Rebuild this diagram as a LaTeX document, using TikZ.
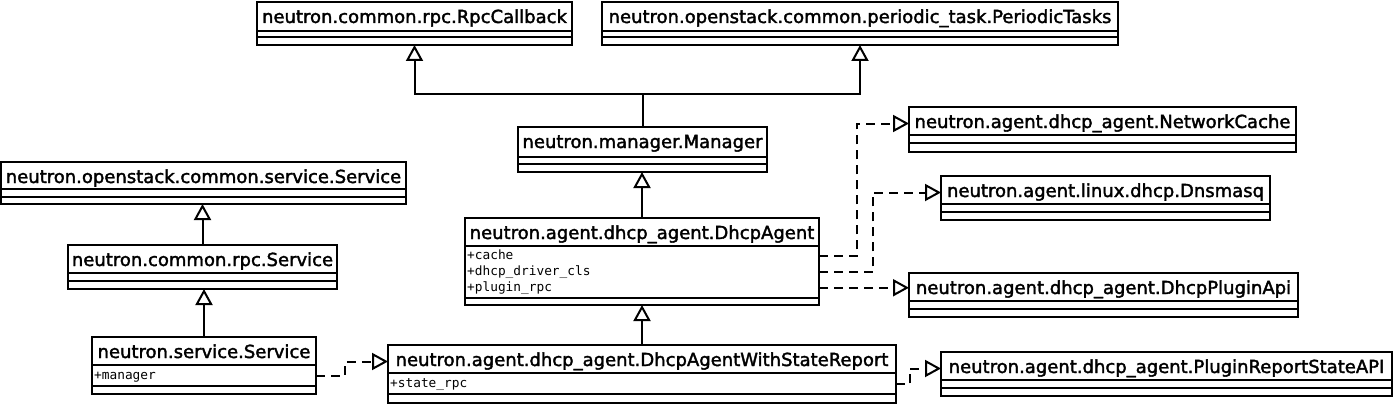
\documentclass[tikz,border=0pt]{standalone}
\usepackage{fontspec}
\usetikzlibrary{arrows.meta}
\newfontfamily\titlefont[FakeBold=2]{DejaVu Sans}
\newfontfamily\attrfont{DejaVu Sans Mono}
\tikzset{
 clsbox/.style={draw, line width=2pt, inner sep=0pt, outer sep=0pt},
 clsline/.style={line width=2pt},
 clstitle/.style={font=\titlefont\fontsize{18}{20}\selectfont, inner sep=0pt, anchor=base, text height=13pt, text depth=4pt},
 clsattr/.style={font=\attrfont\fontsize{12.8}{14}\selectfont, inner sep=0pt, anchor=base west, text height=9.5pt, text depth=3pt},
 inh/.style={line width=2pt, -{Triangle[open, length=16pt, width=17pt]}},
 real/.style={line width=2pt, dash pattern=on 9pt off 6pt, -{Triangle[open, length=16pt, width=17pt]}},
}
% name, x1, y1, x2, y2, sep1, sep2, title  (pixel coordinates, y downward)
\newcommand\umlcls[8]{%
 \node[clsbox, minimum width={(#4-#2)*1pt}, minimum height={(#5-#3)*1pt}] (#1) at ({(#2+#4)/2},{-(#3+#5)/2}) {};
 \node[clstitle] (#1T) at ({(#2+#4)/2},{-(#3+21)}) {#8};
 \draw[clsline] (#1.west |- 0,-#6) -- (#1.east |- 0,-#6);
 \draw[clsline] (#1.west |- 0,-#7) -- (#1.east |- 0,-#7);
}
\begin{document}
\begin{tikzpicture}[x=1pt,y=1pt]
\useasboundingbox (0,0) rectangle (1396,-412);
\umlcls{rpc}{257}{2}{572}{45}{31}{37}{neutron.common.rpc.RpcCallback}
\umlcls{pt}{602}{2}{1118}{45}{31}{37}{neutron.openstack.common.periodic\_task.PeriodicTasks}
\umlcls{mgr}{518}{127}{767}{172}{157}{164}{neutron.manager.Manager}
\umlcls{da}{465}{218}{819}{305}{246}{298}{neutron.agent.dhcp\_agent.DhcpAgent}
\umlcls{oss}{1}{162}{406}{204}{189}{197}{neutron.openstack.common.service.Service}
\umlcls{rs}{68}{245}{337}{289}{273}{281}{neutron.common.rpc.Service}
\umlcls{svc}{92}{337}{316}{394}{365}{386}{neutron.service.Service}
\umlcls{dawsr}{388}{345}{896}{403}{373}{394}{neutron.agent.dhcp\_agent.DhcpAgentWithStateReport}
\umlcls{nc}{909}{107}{1296}{152}{135}{143}{neutron.agent.dhcp\_agent.NetworkCache}
\umlcls{dns}{941}{176}{1270}{220}{204}{212}{neutron.agent.linux.dhcp.Dnsmasq}
\umlcls{dpa}{909}{273}{1298}{317}{301}{309}{neutron.agent.dhcp\_agent.DhcpPluginApi}
\umlcls{prs}{941}{352}{1392}{396}{380}{388}{neutron.agent.dhcp\_agent.PluginReportStateAPI}
% attributes
\node[clsattr] (daA1) at (467,-259.5) {+cache};
\node[clsattr] (daA2) at (467,-275.5) {+dhcp\_driver\_cls};
\node[clsattr] (daA3) at (467,-291) {+plugin\_rpc};
\node[clsattr] (svcA1) at (94,-379) {+manager};
\node[clsattr] (dawsrA1) at (390,-387.5) {+state\_rpc};
% generalizations
\draw[inh] (mgr.north) -- ++(0,33) -| (rpc.south);
\draw[inh] (mgr.north) -- ++(0,33) -| (pt.south);
\draw[inh] (da.north) -- (da.north |- mgr.south);
\draw[inh] (dawsr.north) -- (dawsr.north |- da.south);
\draw[inh] (rs.north) -- (rs.north |- oss.south);
\draw[inh] (svc.north) -- (svc.north |- rs.south);
% realizations
\draw[real] (da.east |- daA1) -- ++(38,0) |- (nc.west |- ncT);
\draw[real] (da.east |- daA2) -- ++(54,0) |- (dns.west |- dnsT);
\draw[real] (da.east |- daA3) -- (dpa.west |- daA3);
\draw[real] (dawsr.east |- dawsrA1) -- ++(14,0) |- (prs.west |- prsT);
\draw[real] (svc.east |- svcA1) -- ++(29,0) |- (dawsr.west |- dawsrT);
\end{tikzpicture}
\end{document}
